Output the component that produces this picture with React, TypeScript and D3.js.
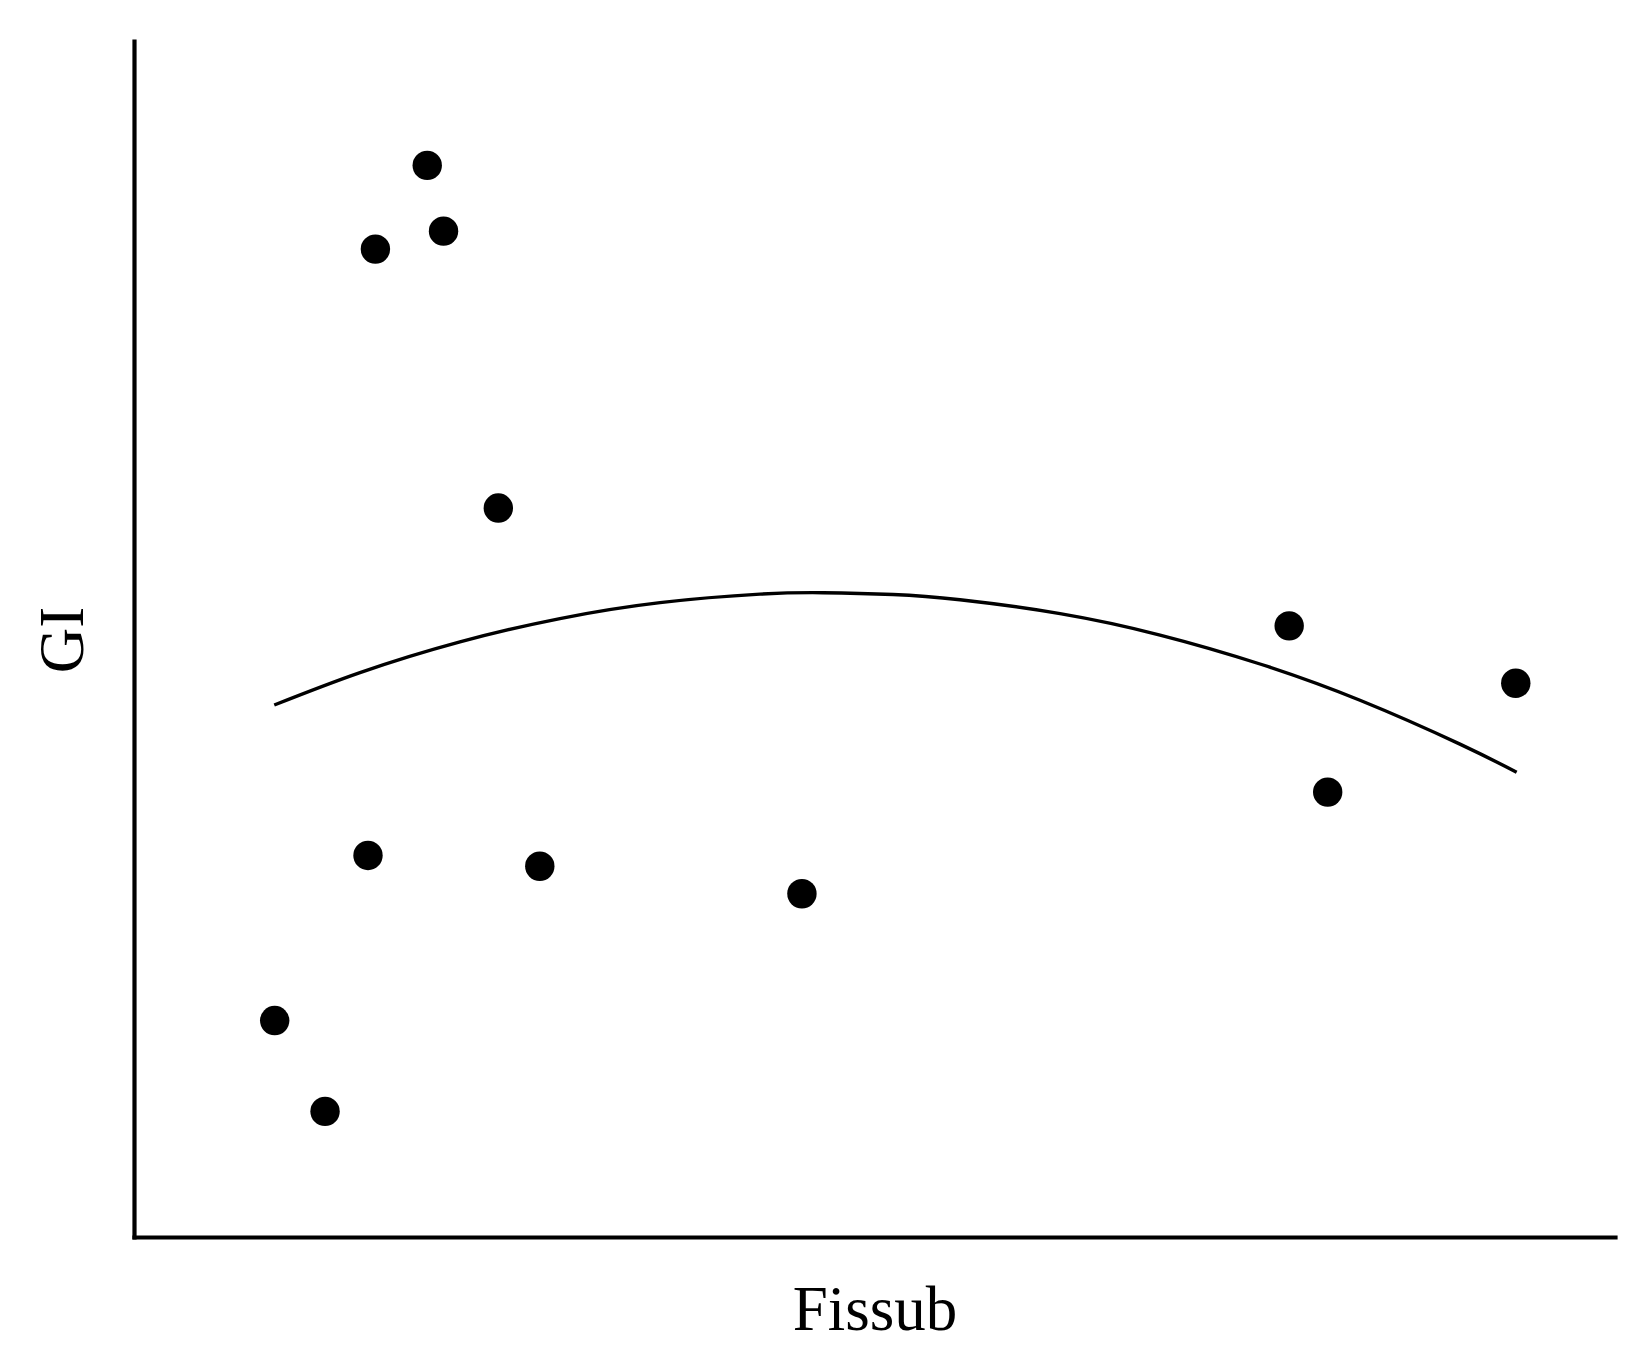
import { useEffect, useRef } from 'react'
import * as d3 from 'd3'

// observed points (arbitrary units, no tick labels in the source)
const FISSUB = [19.8, 20.9, 16.3, 24.6, 78.0, 93.3, 80.6, 15.8, 27.4, 45.1, 9.5, 12.9]
const GI = [89.6, 84.1, 82.6, 60.95, 51.1, 46.3, 37.2, 31.9, 31.0, 28.7, 18.1, 10.5]

// fitted curve
const FIT_X = [9.47, 15.26, 22.01, 28.76, 35.52, 42.27, 46.52, 51.25, 55.77, 62.53, 69.28, 76.03, 82.78, 89.53, 93.36]
const FIT_Y = [44.48, 47.19, 49.76, 51.71, 53.04, 53.75, 53.87, 53.72, 53.28, 52.12, 50.33, 47.91, 44.88, 41.21, 38.86]

const X_LABEL = 'Fissub'
const Y_LABEL = 'GI'

export default function App() {
  const ref = useRef<SVGSVGElement | null>(null)
  useEffect(() => {
    if (!ref.current) return
    const W = 1638, H = 1370
    const m = { top: 41, right: 23, bottom: 133, left: 134 }
    const svg = d3.select(ref.current)
    svg.selectAll('*').remove()
    svg.append('rect').attr('width', W).attr('height', H).attr('fill', '#fff')

    const x = d3.scaleLinear().domain([0, 100]).range([m.left, W - m.right])
    const y = d3.scaleLinear().domain([0, 100]).range([H - m.bottom, m.top])
    const font = '"Liberation Serif", "Times New Roman", serif'

    const xa = svg.append('g').attr('transform', `translate(0,${H - m.bottom})`)
      .call(d3.axisBottom(x).ticks(0).tickSizeOuter(0))
    const ya = svg.append('g').attr('transform', `translate(${m.left},0)`)
      .call(d3.axisLeft(y).ticks(0).tickSizeOuter(0))
    ;[xa, ya].forEach(a => {
      a.selectAll('.tick').remove()
      a.select('.domain').attr('stroke', '#000').attr('stroke-width', 4.2).attr('stroke-linecap', 'square')
    })

    const pts = FIT_X.map((v, i) => [v, FIT_Y[i]] as [number, number])
    const line = d3.line<[number, number]>().x(d => x(d[0])).y(d => y(d[1])).curve(d3.curveNatural)
    svg.append('path').datum(pts).attr('d', line).attr('fill', 'none')
      .attr('stroke', '#000').attr('stroke-width', 3.4)

    svg.append('g').selectAll('circle').data(FISSUB).join('circle')
      .attr('cx', d => x(d)).attr('cy', (_, i) => y(GI[i]))
      .attr('r', 14.7).attr('fill', '#000')

    svg.append('text').attr('x', 875).attr('y', 1330).attr('text-anchor', 'middle')
      .attr('font-family', font).attr('font-size', 63).attr('fill', '#000').text(X_LABEL)
    svg.append('text').attr('transform', 'translate(83,640) rotate(-90)').attr('text-anchor', 'middle')
      .attr('font-family', font).attr('font-size', 63).attr('fill', '#000').text(Y_LABEL)
  }, [])
  return <svg ref={ref} width={1638} height={1370} style={{ position: 'absolute', left: 0, top: 0, display: 'block' }} />
}
